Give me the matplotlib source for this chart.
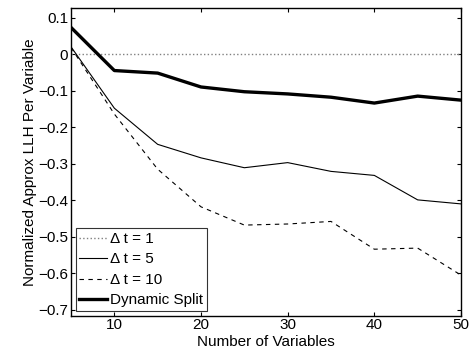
import matplotlib
matplotlib.use("Agg")
import matplotlib.pyplot as plt

plt.rcParams.update({"font.family": ["Liberation Sans", "DejaVu Sans"]})
plt.rcParams.update({"font.size": 11})

# number of variables
num_vars = [5, 10, 15, 20, 25, 30, 35, 40, 45, 50]
# normalized approx LLH per variable
dt1 = [0.0, 0.0, 0.0, 0.0, 0.0, 0.0, 0.0, 0.0, 0.0, 0.0]
dt5 = [0.02, -0.148, -0.247, -0.284, -0.311, -0.297, -0.321, -0.332, -0.399, -0.41]
dt10 = [0.018, -0.164, -0.315, -0.418, -0.468, -0.465, -0.458, -0.534, -0.531, -0.605]
dynamic = [0.073, -0.045, -0.052, -0.09, -0.103, -0.109, -0.118, -0.134, -0.115, -0.126]

fig = plt.figure(figsize=(4.76, 3.52), dpi=100)
ax = fig.add_axes([71 / 476, 1 - 315.7 / 352, 390 / 476, 308 / 352])

ax.plot(num_vars, dt1, linestyle=":", color="#808080", linewidth=1.0, label="\u0394 t = 1")
ax.plot(num_vars, dt5, linestyle="-", color="black", linewidth=0.8, label="\u0394 t = 5")
ax.plot(num_vars, dt10, linestyle=(0, (4, 4)), color="black", linewidth=0.8, label="\u0394 t = 10")
ax.plot(num_vars, dynamic, linestyle="-", color="black", linewidth=2.4, label="Dynamic Split")

ax.set_xlim(5, 50)
ax.set_ylim(-0.716, 0.127)
ax.set_xticks([10, 20, 30, 40, 50])
ax.set_yticks([0.1, 0, -0.1, -0.2, -0.3, -0.4, -0.5, -0.6, -0.7])
ax.set_yticklabels(["0.1", "0", "\u22120.1", "\u22120.2", "\u22120.3", "\u22120.4",
                    "\u22120.5", "\u22120.6", "\u22120.7"])
ax.tick_params(direction="in", top=True, right=True, length=3, width=0.8, labelsize=11, pad=2)
for s in ax.spines.values():
    s.set_linewidth(1.0)

ax.set_xlabel("Number of Variables", fontsize=11, labelpad=2)
ax.set_ylabel("Normalized Approx LLH Per Variable", fontsize=11, labelpad=1)

leg = ax.legend(loc="lower left", fontsize=11, frameon=True, fancybox=False,
                edgecolor="black", borderpad=0.25, labelspacing=0.42,
                handlelength=1.8, handletextpad=0.2, borderaxespad=0.3)
leg.get_frame().set_linewidth(0.8)

fig.savefig("out.png", dpi=100)
